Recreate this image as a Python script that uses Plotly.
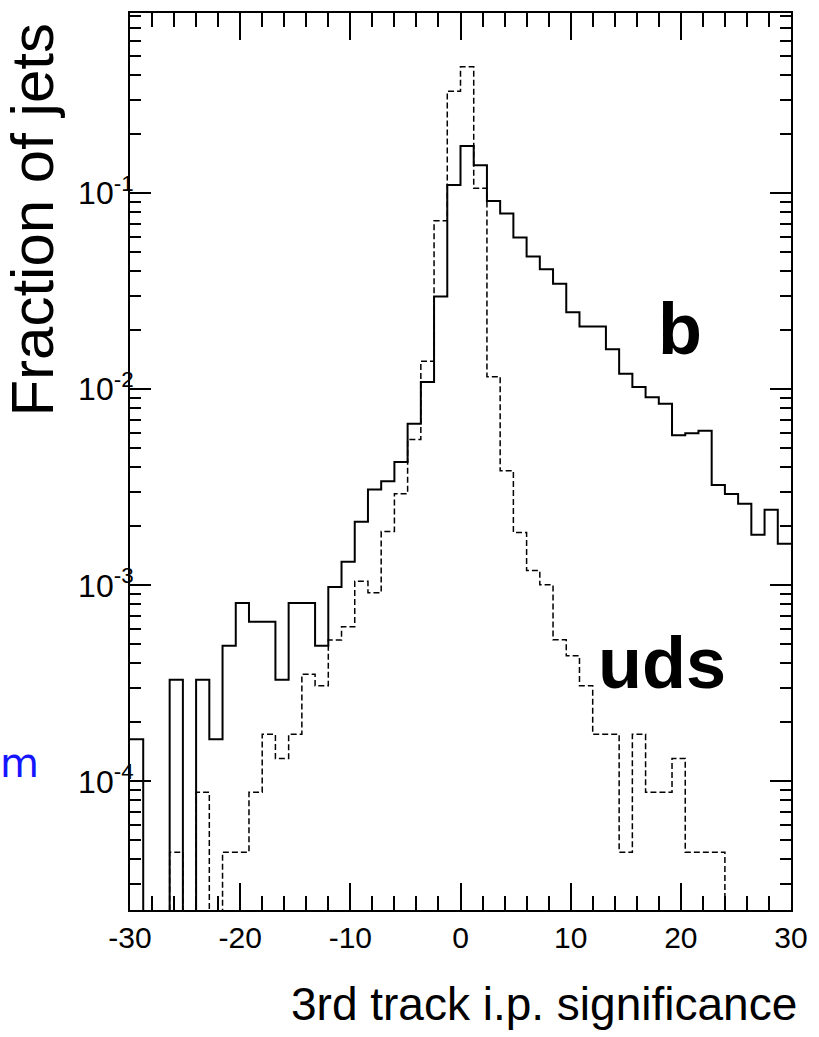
import math
import plotly.graph_objects as go

# ---------------- data ----------------
bin_lo = -30.0
bin_hi = 30.0
n_bins = 50

b_frac = [1.64e-4, 0, 0, 3.3e-4, 0, 3.3e-4, 1.64e-4, 4.92e-4, 8.13e-4, 6.52e-4,
          6.52e-4, 3.3e-4, 8.13e-4, 8.13e-4, 4.92e-4, 9.8e-4, 1.32e-3, 2.11e-3, 3.08e-3, 3.40e-3,
          4.26e-3, 6.68e-3, 1.09e-2, 2.97e-2, 0.110, 0.174, 0.139, 0.0912, 0.0789, 0.0594,
          0.0475, 0.0409, 0.0345, 0.0247, 0.0209, 0.0209, 0.0160, 0.0120, 0.01028, 0.0091,
          0.00845, 0.00583, 0.00597, 0.00614, 0.00325, 0.00292, 0.00261, 0.00181, 0.00243, 0.00163]

uds_frac = [0, 0, 0, 4.36e-5, 0, 8.8e-5, 0, 4.36e-5, 4.36e-5, 8.8e-5,
            1.74e-4, 1.31e-4, 1.74e-4, 3.52e-4, 3.08e-4, 5.26e-4, 6.15e-4, 1.05e-3, 9.18e-4, 1.88e-3,
            2.93e-3, 5.54e-3, 0.0139, 0.0723, 0.331, 0.441, 0.106, 0.0116, 3.84e-3, 1.86e-3,
            1.19e-3, 1.006e-3, 5.28e-4, 4.37e-4, 3.08e-4, 1.74e-4, 1.74e-4, 4.36e-5, 1.74e-4, 8.8e-5,
            8.8e-5, 1.31e-4, 4.36e-5, 4.36e-5, 4.36e-5, 0, 0, 0, 0, 0]

x_tickvals = [-30, -20, -10, 0, 10, 20, 30]
x_ticktext = ["-30", "-20", "-10", "0", "10", "20", "30"]
y_tickvals = [1e-4, 1e-3, 1e-2, 1e-1]
y_ticktext = ["10<sup>-4</sup>", "10<sup>-3</sup>", "10<sup>-2</sup>", "10<sup>-1</sup>"]

y_min, y_max = 2.21e-5, 0.83

# ---------------- build step outlines ----------------
width = (bin_hi - bin_lo) / n_bins
edges = [bin_lo + i * width for i in range(n_bins + 1)]
FLOOR = 1e-9  # empty bins drop below the axis


def step(vals):
    ys = [v if v > 0 else FLOOR for v in vals]
    return edges, ys + [ys[-1]]


fig = go.Figure()
xb, yb = step(b_frac)
fig.add_trace(go.Scatter(x=xb, y=yb, mode="lines", line_shape="hv",
                         line=dict(color="black", width=2), name="b",
                         showlegend=False, hoverinfo="skip"))
xu, yu = step(uds_frac)
fig.add_trace(go.Scatter(x=xu, y=yu, mode="lines", line_shape="hv",
                         line=dict(color="black", width=1.5, dash="6px,3px"), name="uds",
                         showlegend=False, hoverinfo="skip"))

x_tick_font = dict(family="Liberation Sans, Arial, sans-serif", size=30, color="black")
y_tick_font = dict(family="Liberation Sans, Arial, sans-serif", size=32, color="black")

fig.update_xaxes(range=[bin_lo, bin_hi], tickvals=x_tickvals, ticktext=x_ticktext,
                 ticks="inside", ticklen=27, tickwidth=1.5, tickcolor="black",
                 minor=dict(ticks="inside", dtick=2, ticklen=14, tickwidth=1.5, tickcolor="black"),
                 showline=True, linecolor="black", linewidth=2, mirror="allticks",
                 showgrid=False, zeroline=False, tickfont=x_tick_font)
fig.update_yaxes(type="log", range=[math.log10(y_min), math.log10(y_max)],
                 tickvals=y_tickvals, ticktext=y_ticktext,
                 ticks="inside", ticklen=21, tickwidth=1.5, tickcolor="black",
                 minor=dict(ticks="inside", dtick="D1", ticklen=11, tickwidth=1.5, tickcolor="black"),
                 showline=True, linecolor="black", linewidth=2, mirror="allticks",
                 showgrid=False, zeroline=False, tickfont=y_tick_font, ticklabelstandoff=-12)

L, R, T, B = 130, 21, 11, 127
W, H = 819, 1037
pw, ph = W - L - R, H - T - B


def px(xp):
    return (xp - L) / pw


def py(yp):
    return (H - B - yp) / ph


annos = [
    dict(text="<b>b</b>", x=px(686), y=py(328), font=dict(family="Liberation Sans, Arial", size=72, color="black"),
         xanchor="center", yanchor="middle"),
    dict(text="<b>uds</b>", x=px(668), y=py(662), font=dict(family="Liberation Sans, Arial", size=72, color="black"),
         xanchor="center", yanchor="middle"),
    dict(text="m", x=px(40), y=py(763), font=dict(family="DejaVu Sans", size=40, color="#1515ff"),
         xanchor="right", yanchor="middle"),
    dict(text="Fraction of jets", x=px(32), y=py(218), textangle=-90,
         font=dict(family="Liberation Sans, Arial", size=60, color="black"),
         xanchor="center", yanchor="middle"),
    dict(text="3rd track i.p. significance", x=px(806), y=py(1004),
         font=dict(family="Liberation Sans, Arial, sans-serif", size=46, color="black"),
         xanchor="right", yanchor="middle"),
]
for a in annos:
    a.update(xref="paper", yref="paper", showarrow=False)
fig.update_layout(annotations=annos)

fig.update_layout(width=W, height=H, margin=dict(l=L, r=R, t=T, b=B, pad=0),
                  paper_bgcolor="white", plot_bgcolor="white", showlegend=False)

fig.write_html("out.html")
